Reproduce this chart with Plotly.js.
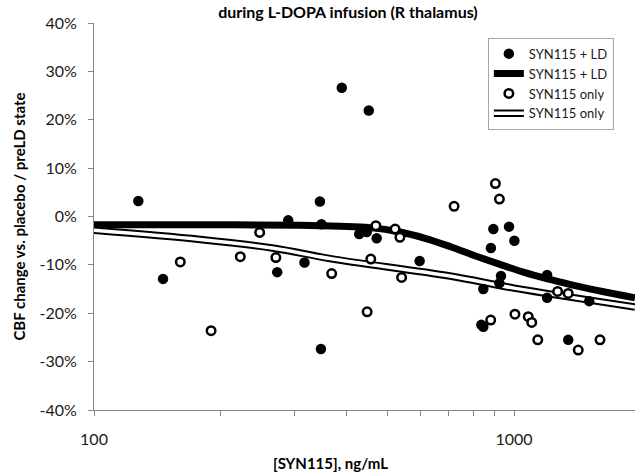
<!DOCTYPE html>
<html><head><meta charset="utf-8">
<script src="https://cdn.plot.ly/plotly-3.0.1.min.js"></script>
<style>html,body{margin:0;padding:0;background:#fff;overflow:hidden}#chart{width:635px;height:474px}</style>
</head><body><div id="chart"></div>
<script>
// SYN115 + LD measured points (ng/mL, % CBF change)
const ldConc = [127.5, 146, 290, 273, 317, 389, 345, 348, 347, 451, 428, 446, 471, 596, 893, 973, 1002, 881, 931, 923, 845, 1199, 1199, 1510, 845, 836, 1346];
const ldCbf  = [3.2, -12.9, -0.8, -11.5, -9.5, 26.6, 3.1, -1.6, -27.4, 21.9, -3.6, -3.2, -4.5, -9.2, -2.6, -2.1, -5.0, -6.5, -12.3, -13.8, -15.0, -12.1, -16.8, -17.5, -22.8, -22.4, -25.5];
// SYN115 only measured points
const onlyConc = [160.5, 190, 223, 248, 271, 368, 469, 521, 535, 456, 540, 447, 720, 903, 923, 1270, 1346, 880, 1005, 1081, 1102, 1139, 1422, 1602];
const onlyCbf  = [-9.4, -23.6, -8.3, -3.3, -8.5, -11.8, -1.9, -2.6, -4.3, -8.8, -12.6, -19.7, 2.1, 6.8, 3.6, -15.5, -15.9, -21.4, -20.2, -20.7, -21.9, -25.5, -27.6, -25.5];
// fitted curves
const ldFitConc = [100, 179, 309, 385, 454, 535, 614, 704, 807, 926, 1062, 1218, 1397, 1602, 1941];
const ldFitCbf  = [-1.7, -1.7, -1.8, -2.0, -2.3, -3.2, -4.5, -6.2, -8.1, -9.9, -11.6, -13.0, -14.3, -15.4, -16.8];
const onlyFitConc = [100, 179, 268, 365, 704, 1000, 1941];
const onlyFitCbf  = [-2.85, -4.75, -6.55, -8.7, -12.3, -14.8, -18.7];
// ticks
const xTickVals = [100, 200, 300, 400, 500, 600, 700, 800, 900, 1000];
const xTickText = ['100', '', '', '', '', '', '', '', '', '1000'];
const xMajorVals = [100, 1000];
const yTickVals = [-40, -30, -20, -10, 0, 10, 20, 30, 40];
const yTickText = ['-40%', '-30%', '-20%', '-10%', '0%', '10%', '20%', '30%', '40%'];

const axisGrey = '#868686';
const traces = [
  {x: ldFitConc, y: ldFitCbf, mode: 'lines', name: 'SYN115 + LD', legendrank: 2,
   line: {color: '#000', width: 7, shape: 'spline'}},
  {x: onlyFitConc, y: onlyFitCbf, mode: 'lines', name: 'SYN115 only', legendrank: 4,
   line: {color: '#000', width: 7.5, shape: 'spline'}},
  {x: onlyFitConc, y: onlyFitCbf, mode: 'lines', name: ' ', legend: 'legend2',
   line: {color: '#fff', width: 3.5, shape: 'spline'}},
  {x: ldConc, y: ldCbf, mode: 'markers', name: 'SYN115 + LD', legendrank: 1,
   marker: {symbol: 'circle', size: 10.5, color: '#000', line: {width: 0}}},
  {x: onlyConc, y: onlyCbf, mode: 'markers', name: 'SYN115 only', legendrank: 3,
   marker: {symbol: 'circle', size: 8.5, color: '#fff', line: {color: '#000', width: 2.5}}}
];

const layout = {
  width: 635, height: 474,
  margin: {l: 94, r: 0, t: 23, b: 64, pad: 0},
  paper_bgcolor: '#fff', plot_bgcolor: '#fff',
  font: {family: 'Lato, "Open Sans", sans-serif', size: 16, color: '#1a1a1a'},
  title: {text: '<b>during L-DOPA infusion (R thalamus)</b>', font: {size: 16, color: '#000'},
          xref: 'container', yref: 'container', x: 0.548, xanchor: 'center', y: 0.986, yanchor: 'top', pad: {t: 0, b: 0}},
  showlegend: true,
  legend: {x: 0.728, y: 0.962, xanchor: 'left', yanchor: 'top', bgcolor: '#fff',
           bordercolor: '#a6a6a6', borderwidth: 1, font: {size: 13, color: '#1a1a1a'},
           itemwidth: 30, tracegroupgap: 0},
  legend2: {x: 0.728, y: 0.5, xanchor: 'left', yanchor: 'top', bgcolor: 'rgba(0,0,0,0)',
            bordercolor: 'rgba(0,0,0,0)', borderwidth: 1, font: {size: 13, color: '#1a1a1a'},
            itemwidth: 30, tracegroupgap: 0},
  xaxis: {type: 'log', range: [2, Math.log10(1941)], tickmode: 'array', tickvals: xTickVals, ticktext: xTickText,
          ticks: 'outside', ticklen: 5, tickcolor: axisGrey, tickwidth: 1,
          showline: true, linecolor: axisGrey, linewidth: 1, showgrid: false, zeroline: false,
          ticklabelstandoff: 10, tickfont: {size: 16}},
  xaxis2: {type: 'log', range: [2, Math.log10(1941)], overlaying: 'x', anchor: 'y', side: 'bottom',
           tickmode: 'array', tickvals: xMajorVals, ticks: 'inside', ticklen: 5, tickcolor: axisGrey,
           showticklabels: false, showline: false, showgrid: false, zeroline: false},
  yaxis: {range: [-40, 40], tickmode: 'array', tickvals: yTickVals, ticktext: yTickText,
          ticks: 'outside', ticklen: 5, tickcolor: axisGrey, tickwidth: 1,
          showline: true, linecolor: axisGrey, linewidth: 1, showgrid: false, zeroline: false,
          ticklabelstandoff: 8, tickfont: {size: 16},
          title: {text: '<b>CBF change vs. placebo / preLD state</b>', font: {size: 15, color: '#000'}, standoff: 10}},
  annotations: [
    {text: '<b>[SYN115], ng/mL</b>', xref: 'paper', yref: 'paper', x: 0.438, y: -0.137,
     xanchor: 'center', yanchor: 'middle', showarrow: false, font: {size: 15, color: '#000'}}
  ]
};

Plotly.newPlot('chart', traces, layout, {displayModeBar: false, staticPlot: true}).then(function (gd) {
  // align the white inner stroke (legend2) onto the 4th entry of the main legend
  try {
    const l1 = gd.querySelector('g.legend');
    const l2 = gd.querySelector('g.legend2');
    const items1 = l1.querySelectorAll('g.traces');
    let target = null;
    items1.forEach(function (g) {
      const t = g.querySelector('text.legendtext');
      const p = g.querySelector('.legendlines path');
      if (t && p && t.textContent.trim() === 'SYN115 only') target = p;
    });
    const src = l2.querySelector('.legendlines path');
    if (!target || !src) throw new Error('no legend item');
    const a = target.getBoundingClientRect();
    const b = src.getBoundingClientRect();
    const dy = (a.top + a.height / 2) - (b.top + b.height / 2);
    const dx = a.left - b.left;
    const h = gd._fullLayout._size.h, w = gd._fullLayout._size.w;
    return Plotly.relayout(gd, {'legend2.y': 0.5 - dy / h, 'legend2.x': 0.728 + dx / w});
  } catch (e) {
    return Plotly.relayout(gd, {'legend2.visible': false});
  }
});
</script>
</body></html>
